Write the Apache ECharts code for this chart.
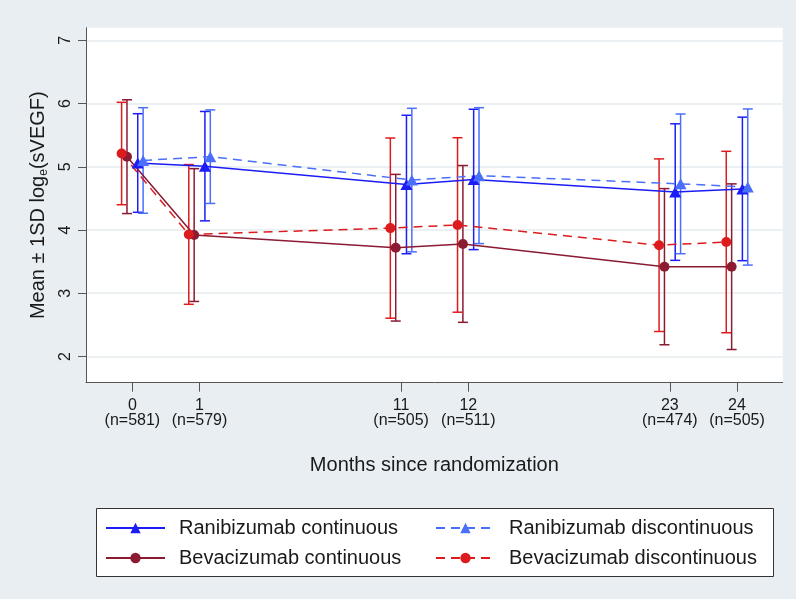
<!DOCTYPE html>
<html>
<head>
<meta charset="utf-8">
<script src="https://cdn.jsdelivr.net/npm/echarts@6/dist/echarts.min.js"></script>
<style>
html,body{margin:0;padding:0;background:#e8eef1;}
#chart{width:796px;height:599px;}
</style>
</head>
<body>
<div id="chart"></div>
<script>
// ---- data ----
const months = ['0', '1', '11', '12', '23', '24'];
const nCounts = ['(n=581)', '(n=579)', '(n=505)', '(n=511)', '(n=474)', '(n=505)'];
const plotPos = [0, 1, 4, 5, 8, 9];          // axis position of each visit
const yTicks = [2, 3, 4, 5, 6, 7];

const ranContMean = [5.06, 5.01, 4.72, 4.80, 4.60, 4.65];
const ranContSD   = [0.78, 0.865, 1.095, 1.11, 1.08, 1.135];
const ranDiscMean = [5.10, 5.16, 4.79, 4.86, 4.73, 4.68];
const ranDiscSD   = [0.835, 0.74, 1.135, 1.075, 1.105, 1.235];
const bevContMean = [5.16, 3.92, 3.72, 3.78, 3.42, 3.42];
const bevContSD   = [0.90, 1.05, 1.16, 1.24, 1.235, 1.31];
const bevDiscMean = [5.21, 3.93, 4.03, 4.08, 3.76, 3.81];
const bevDiscSD   = [0.81, 1.105, 1.425, 1.38, 1.365, 1.435];

const FONT = 'Liberation Sans, Arial, sans-serif';

const groups = [
  {name: 'Ranibizumab continuous',    mean: ranContMean, sd: ranContSD, color: '#1c1cf6', dashed: false, symbol: 'triangle', size: [12, 11], offset: 0.08},
  {name: 'Ranibizumab discontinuous', mean: ranDiscMean, sd: ranDiscSD, color: '#4a6ffb', dashed: true,  symbol: 'triangle', size: [12, 11], offset: 0.16},
  {name: 'Bevacizumab continuous',    mean: bevContMean, sd: bevContSD, color: '#8b1a33', dashed: false, symbol: 'circle',   size: 10, offset: -0.08},
  {name: 'Bevacizumab discontinuous', mean: bevDiscMean, sd: bevDiscSD, color: '#dc1b1e', dashed: true,  symbol: 'circle',   size: 10, offset: -0.16}
];

const series = [];
groups.forEach(g => {
  series.push({
    type: 'custom',
    z: 2,
    silent: true,
    data: plotPos.map((p, i) => [p + g.offset, g.mean[i] - g.sd[i], g.mean[i] + g.sd[i]]),
    encode: {x: 0, y: [1, 2]},
    renderItem: function (params, api) {
      const x = api.value(0);
      const p1 = api.coord([x, api.value(1)]);
      const p2 = api.coord([x, api.value(2)]);
      const w = 5;
      const st = {stroke: g.color, lineWidth: 1.5, fill: null};
      return {
        type: 'group',
        children: [
          {type: 'line', shape: {x1: p1[0], y1: p1[1], x2: p2[0], y2: p2[1]}, style: st},
          {type: 'line', shape: {x1: p1[0] - w, y1: p1[1], x2: p1[0] + w, y2: p1[1]}, style: st},
          {type: 'line', shape: {x1: p2[0] - w, y1: p2[1], x2: p2[0] + w, y2: p2[1]}, style: st}
        ]
      };
    }
  });
});
groups.forEach(g => {
  series.push({
    type: 'line',
    name: g.name,
    z: 3,
    data: plotPos.map((p, i) => [p + g.offset, g.mean[i]]),
    symbol: g.symbol,
    symbolSize: g.size,
    showSymbol: true,
    itemStyle: {color: g.color},
    lineStyle: {color: g.color, width: 1.5, type: g.dashed ? [9, 6] : 'solid'},
    emphasis: {disabled: true}
  });
});

const legendCommon = {
  orient: 'vertical',
  top: 516,
  padding: 0,
  itemGap: 6,
  itemWidth: 59,
  itemHeight: 13,
  z: 10,
  selectedMode: false,
  textStyle: {fontFamily: FONT, fontSize: 20, color: '#1a1a1a', lineHeight: 24, padding: [0, 0, 0, 9]}
};

const option = {
  backgroundColor: '#e8eef1',
  animation: false,
  graphic: [{
    type: 'rect', z: 1, left: 96, top: 508,
    shape: {width: 677, height: 68},
    style: {fill: '#ffffff', stroke: '#333333', lineWidth: 1}
  }],
  legend: [
    Object.assign({}, legendCommon, {left: 105, data: [groups[0].name, groups[2].name]}),
    Object.assign({}, legendCommon, {left: 435, data: [groups[1].name, groups[3].name]})
  ],
  grid: {
    left: 86, right: 13.3, top: 27.7, bottom: 216.3,
    show: true, backgroundColor: '#ffffff', borderWidth: 0
  },
  xAxis: {
    type: 'value',
    min: -0.69, max: 9.68,
    name: 'Months since randomization',
    nameLocation: 'middle',
    nameGap: 73,
    nameTextStyle: {fontFamily: FONT, fontSize: 20, color: '#1a1a1a'},
    axisLine: {show: true, onZero: false, lineStyle: {color: '#555555', width: 1}},
    axisTick: {show: true, length: 9, customValues: plotPos, lineStyle: {color: '#555555'}},
    axisLabel: {
      customValues: plotPos,
      margin: 15,
      fontFamily: FONT, fontSize: 16, lineHeight: 15, color: '#1a1a1a',
      formatter: function (v) {
        const i = plotPos.indexOf(v);
        return i < 0 ? '' : months[i] + '\n' + nCounts[i];
      }
    },
    splitLine: {show: false}
  },
  yAxis: {
    type: 'value',
    min: 1.585, max: 7.2,
    name: '{t|Mean ± 1SD log}{s|e}{t|(sVEGF)}',
    nameLocation: 'middle',
    nameGap: 32,
    nameTextStyle: {
      rich: {
        t: {fontFamily: FONT, fontSize: 20, color: '#1a1a1a', lineHeight: 24},
        s: {fontFamily: FONT, fontSize: 12, color: '#1a1a1a', lineHeight: 12, verticalAlign: 'bottom'}
      }
    },
    axisLine: {show: true, onZero: false, lineStyle: {color: '#555555', width: 1}},
    axisTick: {show: true, length: 8, customValues: yTicks, lineStyle: {color: '#555555'}},
    axisLabel: {
      customValues: yTicks,
      rotate: 90,
      margin: 12,
      fontFamily: FONT, fontSize: 16, color: '#1a1a1a'
    },
    splitLine: {show: true, lineStyle: {color: '#e5ebee', width: 1.5}}
  },
  series: series
};

const chart = echarts.init(document.getElementById('chart'), null, {renderer: 'canvas'});
chart.setOption(option);
</script>
</body>
</html>
